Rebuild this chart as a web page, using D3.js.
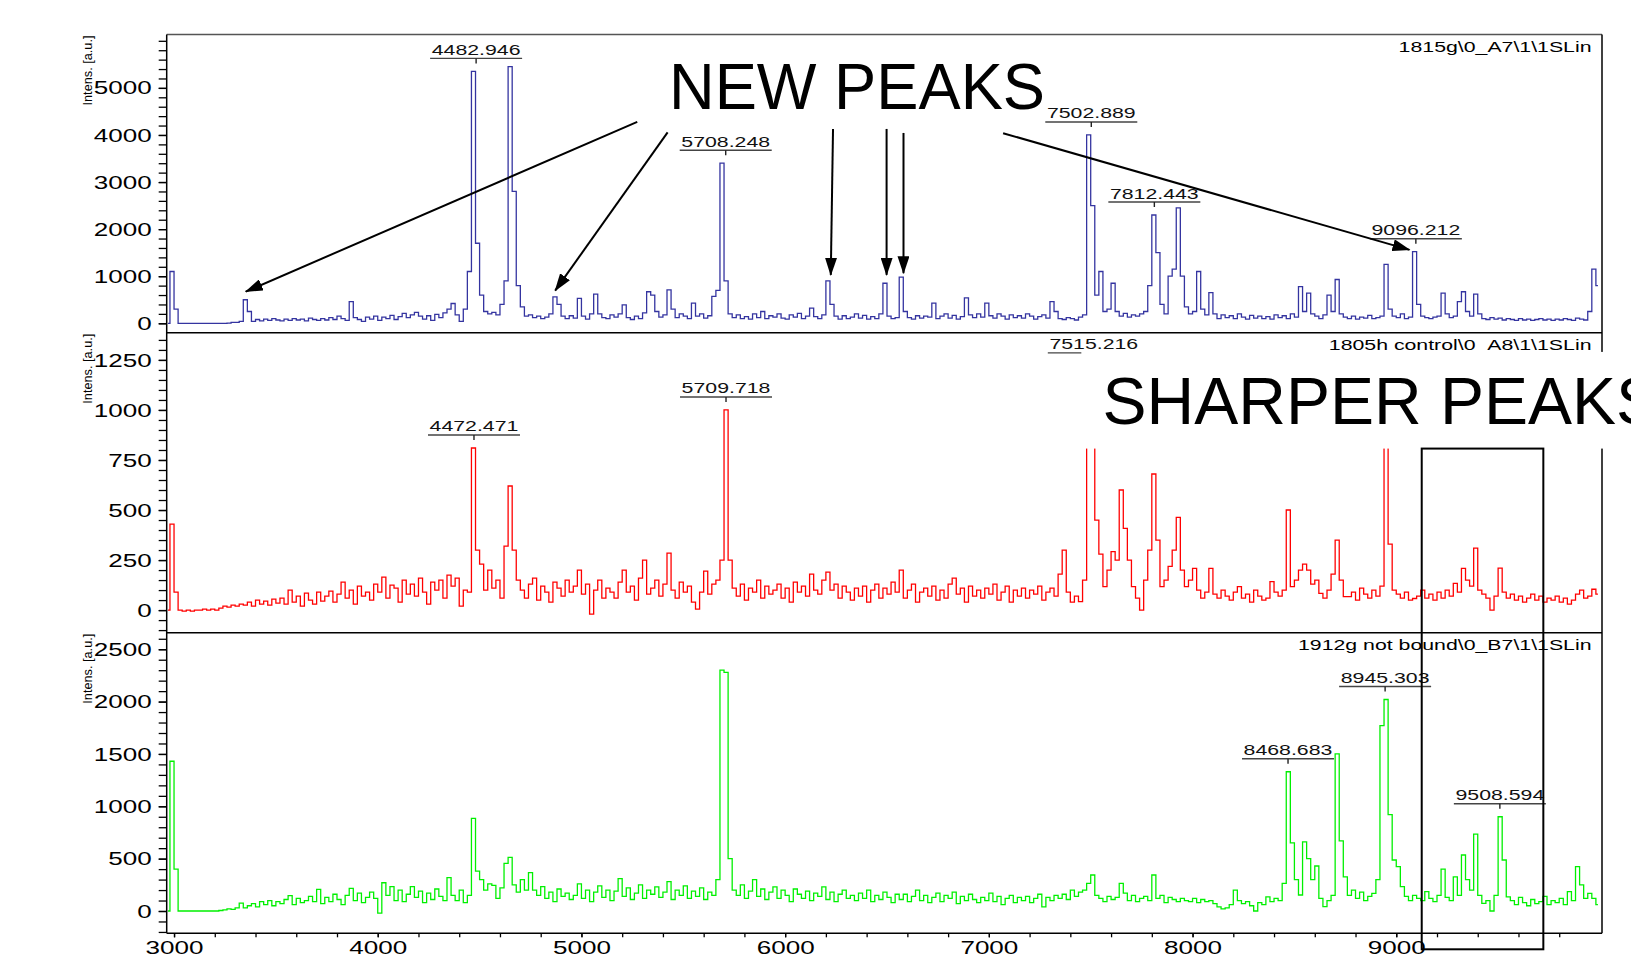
<!DOCTYPE html>
<html>
<head>
<meta charset="utf-8">
<script src="https://cdn.jsdelivr.net/npm/d3@7"></script>
<style>
  body { margin: 0; background: #fff; }
  svg { display: block; font-family: "Liberation Sans", Arial, sans-serif; }
</style>
</head>
<body>
<div id="container"></div>
<script>
// spectra are sampled every 20 Da starting at 2970 Da (one row = 200 Da)
const mzStart = 2970;
const mzStep = 20;

const blueIntens = [
  0, 1100, 300, 0, 0, 0, 0, 0, 0, 0,
  0, 0, 0, 0, 0, 5, 20, 20, 40, 500,
  250, 40, 80, 50, 90, 60, 100, 70, 50, 90,
  60, 100, 70, 90, 50, 110, 80, 60, 100, 70,
  120, 80, 150, 100, 60, 460, 120, 80, 40, 130,
  90, 150, 60, 130, 100, 170, 80, 140, 210, 120,
  180, 230, 150, 90, 160, 60, 190, 120, 220, 300,
  420, 180, 40, 300, 1100, 5350, 1700, 600, 250, 200,
  230, 180, 400, 900, 5450, 2800, 800, 350, 150, 180,
  120, 150, 100, 130, 200, 560, 400, 150, 100, 160,
  110, 530, 150, 90, 200, 620, 200, 120, 100, 180,
  130, 200, 390, 120, 80, 150, 100, 220, 670, 600,
  250, 130, 180, 710, 300, 120, 200, 150, 100, 430,
  150, 200, 110, 160, 570, 700, 3400, 900, 200, 120,
  180, 100, 140, 90, 200, 120, 250, 100, 160, 130,
  200, 110, 90, 180, 130, 210, 100, 150, 320, 140,
  100, 180, 900, 400, 150, 90, 160, 100, 130, 200,
  110, 170, 90, 140, 100, 200, 850, 150, 100, 120,
  980, 250, 120, 90, 160, 110, 150, 130, 430, 100,
  150, 200, 110, 170, 90, 140, 540, 180, 120, 200,
  130, 430, 160, 110, 200, 150, 90, 180, 120, 160,
  110, 200, 150, 90, 140, 180, 110, 460, 250, 100,
  80, 120, 100, 70, 130, 180, 4000, 2500, 600, 1100,
  250, 300, 850, 250, 150, 210, 130, 180, 150, 200,
  250, 800, 2300, 1500, 400, 200, 1000, 1150, 2450, 1000,
  350, 200, 250, 1100, 300, 180, 650, 200, 100, 180,
  120, 160, 100, 200, 130, 90, 170, 110, 150, 100,
  140, 90, 180, 120, 160, 100, 200, 130, 780, 250,
  640, 200, 150, 100, 180, 600, 250, 930, 200, 130,
  100, 150, 90, 130, 110, 170, 100, 120, 150, 1250,
  300, 150, 120, 200, 100, 130, 1520, 400, 150, 120,
  100, 130, 150, 640, 200, 120, 150, 460, 670, 250,
  150, 620, 200, 100, 80, 120, 90, 110, 70, 100,
  80, 60, 100, 70, 90, 60, 80, 100, 70, 90,
  60, 90, 70, 100, 80, 60, 110, 90, 70, 250,
  1150, 800
];

const redIntens = [
  0, 430, 90, 0, -5, 0, -5, 0, 0, 5,
  0, 5, 0, 10, 20, 15, 25, 20, 30, 25,
  40, 20, 50, 30, 45, 25, 55, 35, 60, 30,
  100, 40, 70, 20, 85, 50, 30, 90, 45, 70,
  95, 40, 80, 140, 60, 100, 30, 120, 70, 90,
  50, 130, 90, 165, 60, 125, 110, 40, 150, 80,
  130, 70, 160, 90, 30, 140, 100, 150, 60, 175,
  120, 160, 20, 100, 90, 810, 300, 230, 100, 200,
  110, 150, 60, 320, 620, 300, 150, 100, 60, 130,
  160, 50, 120, 90, 40, 140, 110, 70, 150, 90,
  120, 200, 80, 130, -20, 100, 150, 60, 110, 90,
  60, 140, 200, 90, 120, 50, 160, 250, 80, 110,
  150, 70, 130, 285, 100, 60, 140, 90, 120, 40,
  5, 90, 195, 80, 130, 150, 250, 1000, 250, 110,
  70, 130, 50, 110, 90, 150, 60, 120, 80, 100,
  130, 60, 110, 40, 140, 90, 120, 70, 180, 100,
  80, 150, 190, 100, 130, 60, 120, 90, 50, 110,
  70, 120, 40, 100, 130, 60, 110, 80, 140, 90,
  200, 60, 100, 130, 40, 90, 110, 70, 120, 50,
  100, 60, 130, 160, 80, 110, 40, 120, 70, 100,
  60, 110, 80, 130, 50, 90, 120, 40, 100, 70,
  110, 60, 100, 80, 120, 50, 90, 110, 70, 180,
  300, 90, 40, 70, 42, 150, 950, 1220, 450, 280,
  117, 200, 292, 250, 600, 408, 250, 117, 60, 0,
  150, 300, 680, 350, 117, 150, 218, 300, 463, 200,
  117, 150, 208, 100, 60, 90, 208, 80, 60, 100,
  70, 50, 90, 117, 60, 80, 40, 100, 70, 50,
  60, 142, 90, 70, 100, 500, 117, 150, 200, 230,
  200, 130, 150, 83, 60, 100, 180, 350, 150, 67,
  67, 90, 50, 110, 80, 60, 100, 70, 120, 900,
  330, 100, 80, 60, 90, 50, 58, 70, 100, 60,
  80, 50, 90, 60, 100, 70, 133, 90, 208, 150,
  120, 310, 100, 80, 60, 0, 70, 210, 90, 60,
  80, 50, 70, 40, 60, 80, 50, 70, 40, 60,
  50, 70, 40, 60, 30, 50, 80, 100, 60, 70,
  104, 80
];

const greenIntens = [
  0, 1430, 400, 0, 0, 0, 0, 0, 0, 0,
  0, 0, 0, 5, 10, 20, 15, 30, 76, 30,
  50, 70, 40, 90, 60, 100, 50, 89, 70, 110,
  146, 60, 120, 80, 100, 140, 90, 207, 70, 130,
  90, 160, 110, 60, 150, 216, 100, 170, 80, 130,
  180, 120, -20, 270, 150, 232, 100, 200, 90, 160,
  232, 130, 190, 80, 170, 110, 210, 140, 100, 318,
  150, 100, 200, 80, 150, 885, 380, 300, 200, 260,
  245, 120, 220, 455, 513, 250, 180, 300, 200, 366,
  200, 150, 232, 120, 180, 90, 210, 140, 170, 110,
  150, 260, 120, 200, 90, 180, 240, 130, 200, 100,
  190, 310, 140, 220, 110, 170, 250, 120, 200, 160,
  230, 130, 180, 280, 110, 200, 150, 240, 120, 190,
  140, 220, 110, 180, 150, 300, 2300, 2280, 500, 200,
  150, 250, 120, 190, 300, 140, 210, 110, 180, 230,
  120, 200, 150, 90, 210, 160, 120, 190, 100, 170,
  140, 230, 110, 180, 90, 160, 200, 120, 150, 100,
  170, 120, 200, 90, 150, 110, 180, 130, 80, 160,
  110, 160, 90, 140, 200, 100, 150, 80, 130, 170,
  90, 150, 120, 180, 70, 140, 100, 160, 110, 80,
  130, 100, 170, 90, 140, 60, 120, 150, 80, 130,
  100, 140, 80, 120, 160, 40, 130, 100, 150, 120,
  160, 110, 200, 140, 180, 200, 264, 344, 150, 120,
  90, 140, 110, 130, 264, 170, 100, 150, 90, 120,
  140, 100, 344, 120, 150, 80, 130, 110, 90, 120,
  100, 90, 120, 80, 110, 90, 100, 70, 40, 20,
  30, 60, 200, 100, 70, 90, 50, 0, 80, 60,
  134, 90, 120, 100, 264, 1330, 650, 300, 153, 660,
  500, 300, 430, 120, 41, 100, 150, 1500, 670, 325,
  150, 200, 120, 180, 100, 140, 169, 300, 1770, 2020,
  920, 487, 423, 232, 140, 100, 150, 120, 100, 185,
  120, 90, 150, 400, 130, 100, 325, 150, 535, 300,
  200, 735, 150, 73, 100, 0, 150, 900, 487, 134,
  100, 60, 130, 80, 50, 110, 70, 90, 140, 60,
  100, 80, 120, 60, 185, 100, 423, 250, 120, 169,
  121, 60
];

const spectrumNames = ['1815g\\0_A7\\1\\1SLin', '1805h control\\0_A8\\1\\1SLin', '1912g not bound\\0_B7\\1\\1SLin'];
const blueLabels = [4482.946, 5708.248, 7502.889, 7812.443, 9096.212];
const redLabels = [4472.471, 5709.718, 7515.216];
const greenLabels = [8468.683, 8945.303, 9508.594];
const blueTicks = [0, 1000, 2000, 3000, 4000, 5000];
const redTicks = [0, 250, 500, 750, 1000, 1250];
const greenTicks = [0, 500, 1000, 1500, 2000, 2500];
const mzTicks = [3000, 4000, 5000, 6000, 7000, 8000, 9000];

// "new peaks" arrows, [m/z, intensity] in the top spectrum
const arrowFrom = [[5274, 4277], [5423, 4055], [6235, 4128], [6498, 4128], [6581, 4043], [7070, 4038]];
const arrowTo = [[3352, 672], [4871, 694], [6224, 1028], [6498, 1028], [6581, 1064], [9065, 1560]];

const W = 1631, H = 956;
const left = 166.7, right = 1602;
const panelEdges = [34.5, 332.7, 632.7, 933.3];

const panels = [
  { intens: blueIntens, color: '#3434a0', labels: blueLabels, ticks: blueTicks, domain: [-200, 6134], minor: [0, 6000, 200] },
  { intens: redIntens, color: '#ff0000', labels: redLabels, ticks: redTicks, domain: [-113, 1386], minor: [-100, 1350, 50] },
  { intens: greenIntens, color: '#00f000', labels: greenLabels, ticks: greenTicks, domain: [-213, 2658], minor: [-200, 2600, 100] }
];

const mz = i => mzStart + i * mzStep;

function stretch(sel, k) {
  sel.each(function() {
    const w = this.getComputedTextLength();
    d3.select(this).attr('textLength', w * k).attr('lengthAdjust', 'spacingAndGlyphs');
  });
}

const svg = d3.select('#container').append('svg').attr('width', W).attr('height', H);
const defs = svg.append('defs');
defs.append('marker')
  .attr('id', 'head')
  .attr('viewBox', '0 0 18 12')
  .attr('refX', 17).attr('refY', 6)
  .attr('markerWidth', 18).attr('markerHeight', 12)
  .attr('markerUnits', 'userSpaceOnUse')
  .attr('orient', 'auto')
  .append('path').attr('d', 'M0,0L18,6L0,12Z').attr('fill', '#000');

const x = d3.scaleLinear().domain([2964, 10010]).range([left, right]);

panels.forEach((p, k) => {
  const top = panelEdges[k], bottom = panelEdges[k + 1];
  const y = d3.scaleLinear().domain(p.domain).range([bottom, top]);
  p.y = y;
  const g = svg.append('g');

  defs.append('clipPath').attr('id', 'clip' + k)
    .append('rect').attr('x', left).attr('y', top).attr('width', right - left).attr('height', bottom - top);

  g.append('path')
    .datum(p.intens)
    .attr('clip-path', `url(#clip${k})`)
    .attr('fill', 'none')
    .attr('stroke', p.color)
    .attr('stroke-width', 1.3)
    .attr('d', d3.line().x((d, i) => x(mz(i))).y(d => y(d)).curve(d3.curveStep));

  // y axis: minor ticks, then labelled ones
  const minorAx = g.append('g').attr('transform', `translate(${left},0)`)
    .call(d3.axisLeft(y).tickValues(d3.range(p.minor[0], p.minor[1] + 1, p.minor[2])).tickSize(8).tickFormat(''));
  const majorAx = g.append('g').attr('transform', `translate(${left},0)`)
    .call(d3.axisLeft(y).tickValues(p.ticks).tickSize(8).tickPadding(7).tickFormat(d3.format('d')));
  [minorAx, majorAx].forEach(a => {
    a.select('.domain').remove();
    a.selectAll('line').attr('stroke', '#000').attr('stroke-width', 1.3);
  });
  majorAx.attr('font-family', null).attr('font-size', null);
  majorAx.selectAll('text').attr('font-size', 19).attr('fill', '#000');
  stretch(majorAx.selectAll('text'), 1.37);

  g.append('text')
    .attr('transform', `translate(92,${top + 1}) rotate(-90)`)
    .attr('text-anchor', 'end')
    .attr('font-size', 12)
    .attr('textLength', 70)
    .attr('lengthAdjust', 'spacingAndGlyphs')
    .text('Intens. [a.u.]');

  g.append('text')
    .attr('x', 1591.5).attr('y', top + 17.5)
    .attr('text-anchor', 'end')
    .attr('font-size', 14)
    .text(spectrumNames[k])
    .call(stretch, 1.52);

  // peak mass labels
  p.labels.forEach(m => {
    const near = p.intens.filter((v, i) => Math.abs(mz(i) - m) <= 30);
    const uy = y(d3.max(near)) - 13;
    const cx = x(m);
    g.append('line').attr('x1', cx - 46).attr('x2', cx + 46).attr('y1', uy).attr('y2', uy)
      .attr('stroke', '#444').attr('stroke-width', 1.4);
    g.append('line').attr('x1', cx).attr('x2', cx).attr('y1', uy).attr('y2', uy + 5)
      .attr('stroke', '#222').attr('stroke-width', 1.4);
    g.append('text').attr('x', cx).attr('y', uy - 3.5)
      .attr('text-anchor', 'middle').attr('font-size', 14).attr('fill', '#111')
      .text(m.toFixed(3))
      .call(stretch, 1.52);
  });
});

// frame
const frame = svg.append('g').attr('stroke', '#000').attr('stroke-width', 1.5);
frame.append('line').attr('x1', left).attr('x2', right).attr('y1', panelEdges[0]).attr('y2', panelEdges[0]).attr('stroke', '#555');
[1, 2, 3].forEach(k => frame.append('line').attr('x1', left).attr('x2', right).attr('y1', panelEdges[k]).attr('y2', panelEdges[k]));
frame.append('line').attr('x1', left).attr('x2', left).attr('y1', panelEdges[0]).attr('y2', panelEdges[3]);
frame.append('line').attr('x1', right).attr('x2', right).attr('y1', panelEdges[0]).attr('y2', panelEdges[3]);

// x axis
const xMinor = svg.append('g').attr('transform', `translate(0,${panelEdges[3]})`)
  .call(d3.axisBottom(x).tickValues(d3.range(3000, 9801, 200)).tickSize(4).tickFormat(''));
const xMajor = svg.append('g').attr('transform', `translate(0,${panelEdges[3]})`)
  .call(d3.axisBottom(x).tickValues(mzTicks).tickSize(4).tickPadding(3).tickFormat(d3.format('d')));
[xMinor, xMajor].forEach(a => {
  a.select('.domain').remove();
  a.selectAll('line').attr('stroke', '#000').attr('stroke-width', 1.3);
});
xMajor.attr('font-family', null).attr('font-size', null);
xMajor.selectAll('text').attr('font-size', 19).attr('fill', '#000');
stretch(xMajor.selectAll('text'), 1.37);

// white patch behind the "SHARPER PEAKS" caption
const mid = panels[1].y;
svg.append('rect')
  .attr('x', x(7454)).attr('y', mid(1290))
  .attr('width', W - x(7454)).attr('height', mid(807) - mid(1290))
  .attr('fill', '#fff');

svg.append('text')
  .attr('x', 1102.6).attr('y', 424.4)
  .attr('font-size', 66)
  .text('SHARPER PEAKS');

svg.append('rect')
  .attr('x', x(9125)).attr('y', mid(807))
  .attr('width', x(9722) - x(9125)).attr('height', panelEdges[3] + 16 - mid(807))
  .attr('fill', 'none').attr('stroke', '#000').attr('stroke-width', 2);

// arrows to the new peaks
const topY = panels[0].y;
arrowFrom.forEach((a, i) => {
  const b = arrowTo[i];
  svg.append('line')
    .attr('x1', x(a[0])).attr('y1', topY(a[1]))
    .attr('x2', x(b[0])).attr('y2', topY(b[1]))
    .attr('stroke', '#000').attr('stroke-width', 2)
    .attr('marker-end', 'url(#head)');
});

svg.append('text')
  .attr('x', 669).attr('y', 108.5)
  .attr('font-size', 65)
  .attr('textLength', 376)
  .attr('lengthAdjust', 'spacingAndGlyphs')
  .text('NEW PEAKS');
</script>
</body>
</html>
